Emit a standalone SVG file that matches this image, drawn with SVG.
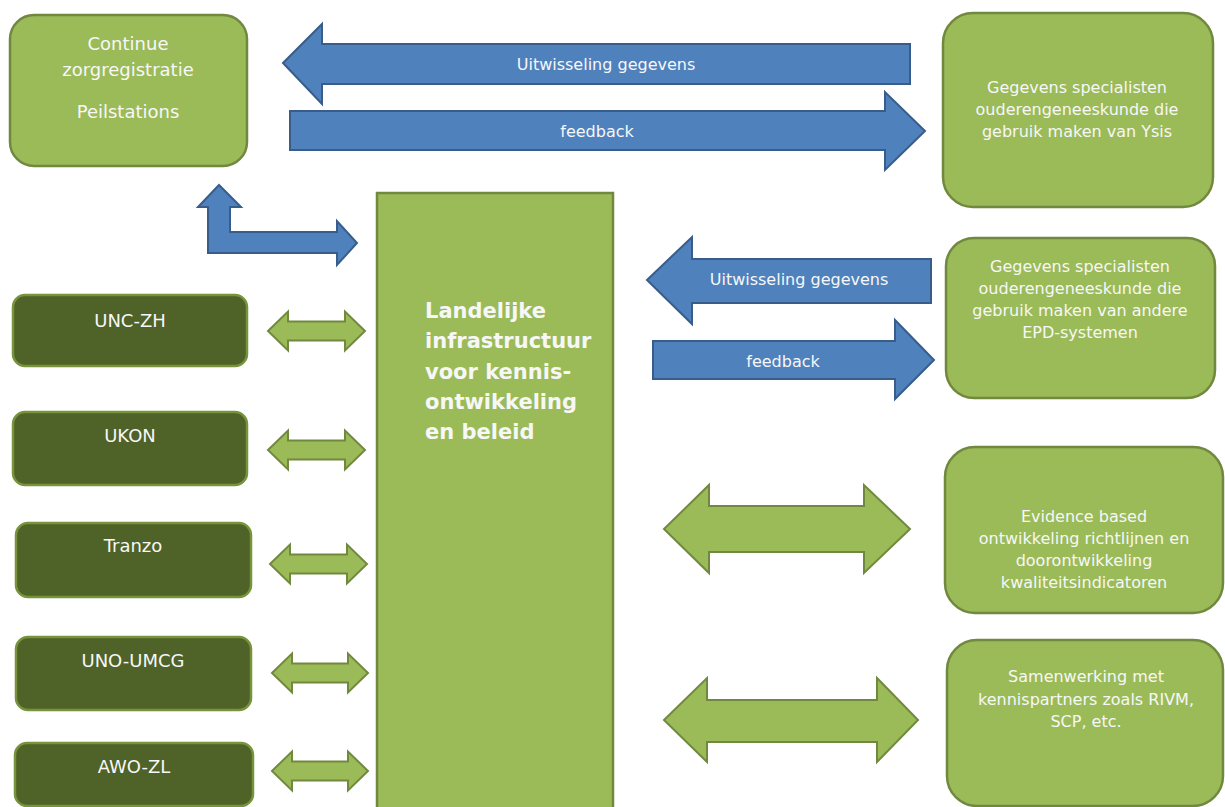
<svg xmlns="http://www.w3.org/2000/svg" width="1225" height="807" viewBox="0 0 1225 807">
<style>
.lg{fill:#9bbb59;stroke:#71893f;stroke-width:2.5}
.dk{fill:#4f6228;stroke:#77933c;stroke-width:2.5}
.bl{fill:#4f81bd;stroke:#385d8a;stroke-width:2}
.ga{fill:#9bbb59;stroke:#71893f;stroke-width:2}
text{font-family:"DejaVu Sans",Verdana,sans-serif;fill:#f7f7f7;text-anchor:middle}
.t18{font-size:18px}
.t16{font-size:16px}
.big{font-size:21px;font-weight:bold;text-anchor:start}
</style>
<rect width="1225" height="807" fill="#ffffff"/>
<g id="connectors">
<polygon class="bl" points="283,63 322,24 322,44 910,44 910,84 322,84 322,104"/>
<polygon class="bl" points="290,111 885,111 885,92 925,131 885,170 885,150 290,150"/>
<polygon class="bl" points="647,280 692,237 692,259 931,259 931,303 692,303 692,324"/>
<polygon class="bl" points="653,341 895,341 895,320 934,360 895,399 895,379 653,379"/>
<polygon class="bl" points="219,185 241,207 230,207 230,232 337,232 337,221 357,243 337,265 337,253 208,253 208,207 198,207"/>
<polygon class="ga" points="268,331 288,311.5 288,321.5 345,321.5 345,311.5 365,331 345,350.5 345,340.5 288,340.5 288,350.5"/>
<polygon class="ga" points="268,450 288,430.5 288,440.5 345,440.5 345,430.5 365,450 345,469.5 345,459.5 288,459.5 288,469.5"/>
<polygon class="ga" points="270,564 290,544.5 290,554.5 347,554.5 347,544.5 367,564 347,583.5 347,573.5 290,573.5 290,583.5"/>
<polygon class="ga" points="272,673 292,653.5 292,663.5 348,663.5 348,653.5 368,673 348,692.5 348,682.5 292,682.5 292,692.5"/>
<polygon class="ga" points="272,771 292,751.5 292,761.5 348,761.5 348,751.5 368,771 348,790.5 348,780.5 292,780.5 292,790.5"/>
<polygon class="ga" points="664,529 709,485 709,506 864,506 864,485 910,529 864,573 864,552 709,552 709,573"/>
<polygon class="ga" points="664,720 707,678 707,700 877,700 877,678 918,720 877,762 877,742 707,742 707,762"/>
<text class="t16" x="606" y="70">Uitwisseling gegevens</text>
<text class="t16" x="597" y="137">feedback</text>
<text class="t16" x="799" y="285">Uitwisseling gegevens</text>
<text class="t16" x="783" y="367">feedback</text>
</g>
<g id="node-continue">
<rect class="lg" x="10" y="15" width="237" height="151" rx="24"/>
<text class="t18" x="128" y="50">Continue</text>
<text class="t18" x="128" y="76">zorgregistratie</text>
<text class="t18" x="128" y="118">Peilstations</text>
</g>
<g id="node-ysis">
<rect class="lg" x="943" y="13" width="270" height="194" rx="30"/>
<text class="t16" x="1077" y="93">Gegevens specialisten</text>
<text class="t16" x="1077" y="115">ouderengeneeskunde die</text>
<text class="t16" x="1077" y="137">gebruik maken van Ysis</text>
</g>
<g id="node-epd">
<rect class="lg" x="946" y="238" width="269" height="160" rx="28"/>
<text class="t16" x="1080" y="272">Gegevens specialisten</text>
<text class="t16" x="1080" y="294">ouderengeneeskunde die</text>
<text class="t16" x="1080" y="316">gebruik maken van andere</text>
<text class="t16" x="1080" y="338">EPD-systemen</text>
</g>
<g id="node-main">
<rect class="lg" x="377" y="193" width="236" height="620"/>
<text class="big" x="425" y="318">Landelijke</text>
<text class="big" x="425" y="348">infrastructuur</text>
<text class="big" x="425" y="379">voor kennis-</text>
<text class="big" x="425" y="409">ontwikkeling</text>
<text class="big" x="425" y="439">en beleid</text>
</g>
<g id="node-unczh">
<rect class="dk" x="13" y="295" width="234" height="71" rx="12"/>
<text class="t18" x="130" y="327">UNC-ZH</text>
</g>
<g id="node-ukon">
<rect class="dk" x="13" y="412" width="234" height="73" rx="12"/>
<text class="t18" x="130" y="442">UKON</text>
</g>
<g id="node-tranzo">
<rect class="dk" x="16" y="523" width="235" height="74" rx="12"/>
<text class="t18" x="133" y="552">Tranzo</text>
</g>
<g id="node-unoumcg">
<rect class="dk" x="16" y="637" width="235" height="73" rx="12"/>
<text class="t18" x="133" y="667">UNO-UMCG</text>
</g>
<g id="node-awozl">
<rect class="dk" x="15" y="743" width="238" height="63" rx="12"/>
<text class="t18" x="134" y="773">AWO-ZL</text>
</g>
<g id="node-evidence">
<rect class="lg" x="945" y="447" width="278" height="166" rx="30"/>
<text class="t16" x="1084" y="522">Evidence based</text>
<text class="t16" x="1084" y="544">ontwikkeling richtlijnen en</text>
<text class="t16" x="1084" y="566">doorontwikkeling</text>
<text class="t16" x="1084" y="588">kwaliteitsindicatoren</text>
</g>
<g id="node-samenwerking">
<rect class="lg" x="947" y="640" width="276" height="166" rx="30"/>
<text class="t16" x="1086" y="682">Samenwerking met</text>
<text class="t16" x="1086" y="705">kennispartners zoals RIVM,</text>
<text class="t16" x="1086" y="727">SCP, etc.</text>
</g>
</svg>
